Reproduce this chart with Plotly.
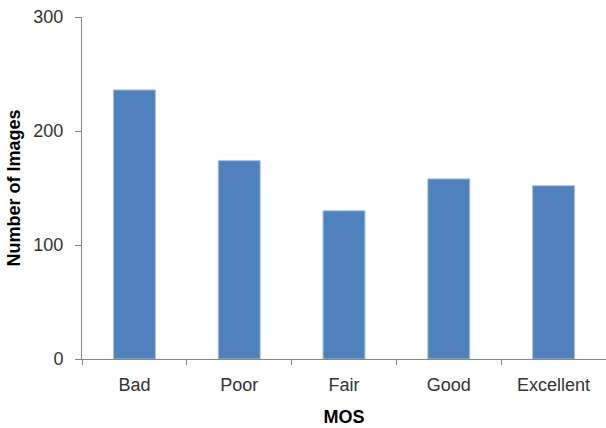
import plotly.graph_objects as go

# MOS rating categories and image counts
categories = ["Bad", "Poor", "Fair", "Good", "Excellent"]
counts = [236, 174, 130, 158, 152]
y_ticks = [0, 100, 200, 300]

axis_grey = "#868686"
font_family = "Liberation Sans, Arial, sans-serif"

fig = go.Figure(
    go.Bar(
        x=categories,
        y=counts,
        marker=dict(color="#4F81BD", line=dict(color="#A7BFDE", width=1)),
    )
)

fig.update_layout(
    width=606,
    height=428,
    margin=dict(l=82, r=0, t=17, b=69),
    plot_bgcolor="white",
    paper_bgcolor="white",
    bargap=0.6,
    showlegend=False,
    font=dict(family=font_family, color="#404040"),
)

fig.update_xaxes(
    title=dict(text="<b>MOS</b>", font=dict(size=18, color="#000000"), standoff=16),
    showline=True,
    linecolor=axis_grey,
    linewidth=1,
    ticks="outside",
    tickson="boundaries",
    ticklen=5,
    tickcolor=axis_grey,
    tickfont=dict(size=18, color="#333333"),
    ticklabelstandoff=9,
    showgrid=False,
)

fig.update_yaxes(
    title=dict(text="<b>Number of Images</b>", font=dict(size=18, color="#000000"), standoff=8),
    range=[0, 300],
    tickvals=y_ticks,
    showline=True,
    linecolor=axis_grey,
    linewidth=1,
    ticks="outside",
    ticklen=6,
    tickcolor=axis_grey,
    tickfont=dict(size=18, color="#333333"),
    ticklabelstandoff=8,
    showgrid=False,
    zeroline=False,
)

fig.write_html("out.html")
